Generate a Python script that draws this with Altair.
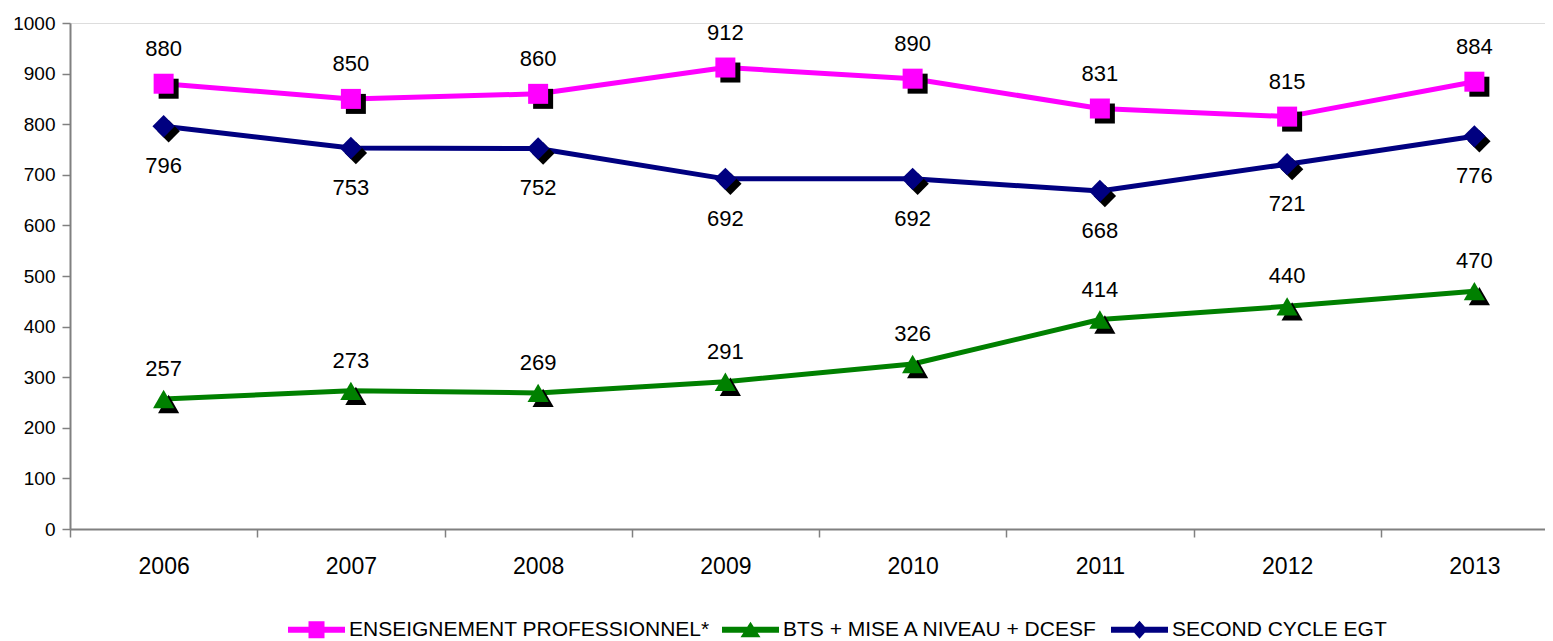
import altair as alt
import pandas as pd

years = [2006, 2007, 2008, 2009, 2010, 2011, 2012, 2013]
series_names = ["ENSEIGNEMENT PROFESSIONNEL*", "BTS + MISE A NIVEAU + DCESF", "SECOND CYCLE EGT"]
pro = [880, 850, 860, 912, 890, 831, 815, 884]
bts = [257, 273, 269, 291, 326, 414, 440, 470]
egt = [796, 753, 752, 692, 692, 668, 721, 776]
colors = ["#FF00FF", "#008000", "#000080"]
marker_shapes = ["square", "triangle-up", "diamond"]
marker_sizes = [400, 500, 484]
label_dy = [-35, -30, 40]
y_ticks = list(range(0, 1001, 100))

rows = []
for name, vals in zip(series_names, [pro, bts, egt]):
    for yr, v in zip(years, vals):
        rows.append({"year": yr, "serie": name, "value": v})
df = pd.DataFrame(rows)

FONT = "Liberation Sans"
GRAY = "#808080"

x_enc = alt.X(
    "year:O",
    scale=alt.Scale(type="band", paddingInner=0, paddingOuter=0, range=[0, 1498]),
    axis=alt.Axis(
        tickBand="extent",
        labelAngle=0,
        tickSize=8,
        tickWidth=1.5,
        tickColor=GRAY,
        domainColor=GRAY,
        domainWidth=2,
        labelPadding=18,
        labelFontSize=23,
        labelFont=FONT,
        labelColor="black",
        labelOverlap=False,
        grid=False,
        title=None,
    ),
)
y_enc = alt.Y(
    "value:Q",
    scale=alt.Scale(domain=[0, 1000], nice=False, zero=True),
    axis=alt.Axis(
        values=y_ticks,
        format="d",
        tickSize=8,
        tickWidth=1.5,
        tickColor=GRAY,
        domainColor=GRAY,
        domainWidth=2,
        labelPadding=7,
        labelFontSize=19,
        labelFont=FONT,
        labelColor="black",
        grid=False,
        title=None,
    ),
)

color_nolegend = alt.Color("serie:N", scale=alt.Scale(domain=series_names, range=colors), legend=None)
shape_nolegend = alt.Shape("serie:N", scale=alt.Scale(domain=series_names, range=marker_shapes), legend=None)
size_nolegend = alt.Size("serie:N", scale=alt.Scale(domain=series_names, range=marker_sizes), legend=None)

base = alt.Chart(df)

lines = base.mark_line(strokeWidth=5, strokeJoin="round", strokeCap="round").encode(
    x=x_enc, y=y_enc, color=color_nolegend, detail="serie:N"
)
shadows = base.mark_point(filled=True, opacity=1, color="black", strokeWidth=0, xOffset=5, yOffset=5).encode(
    x=x_enc, y=y_enc, shape=shape_nolegend, size=size_nolegend, detail="serie:N"
)
markers = base.mark_point(filled=True, opacity=1, strokeWidth=0).encode(
    x=x_enc, y=y_enc, color=color_nolegend, shape=shape_nolegend, size=size_nolegend
)

texts = []
for name, dy in zip(series_names, label_dy):
    texts.append(
        base.transform_filter(alt.datum.serie == name)
        .mark_text(font=FONT, fontSize=22, color="black", dy=dy, baseline="middle", align="center")
        .encode(x=x_enc, y=y_enc, text="value:Q")
    )

# Legend symbols: line segment + marker, as custom paths
leg_paths = [
    "M-2.85,-0.3L2.85,-0.3L2.85,0.3L-2.85,0.3Z M-0.8,-0.85L0.8,-0.85L0.8,0.85L-0.8,0.85Z",
    "M-2.85,-0.3L2.85,-0.3L2.85,0.3L-2.85,0.3Z M0,-0.8L1.0,0.75L-1.0,0.75Z",
    "M-2.85,-0.3L2.85,-0.3L2.85,0.3L-2.85,0.3Z M0,-0.9L0.8,0L0,0.9L-0.8,0Z",
]
legend_def = alt.Legend(
    title=None,
    orient="none",
    direction="horizontal",
    legendX=236,
    legendY=596,
    symbolSize=400,
    symbolStrokeWidth=0,
    symbolOpacity=1,
    labelFont=FONT,
    labelFontSize=21,
    labelColor="black",
    labelOffset=22,
    columnPadding=12,
    padding=0,
    labelLimit=1000,
)
legend_layer = base.transform_filter("false").mark_point(filled=True, opacity=1).encode(
    x=x_enc,
    y=y_enc,
    color=alt.Color("serie:N", scale=alt.Scale(domain=series_names, range=colors), legend=legend_def),
    shape=alt.Shape("serie:N", scale=alt.Scale(domain=series_names, range=leg_paths), legend=legend_def),
)

chart = (
    alt.layer(lines, shadows, markers, *texts, legend_layer)
    .resolve_scale(color="independent", shape="independent")
    .properties(
        width=1475,
        height=506,
        autosize=alt.AutoSizeParams(type="none"),
        padding={"left": 62, "top": 15, "right": 0, "bottom": 111},
    )
    .configure_view(stroke=None)
    .configure(font=FONT)
)

chart.save("out.html", embed_options={"renderer": "svg", "actions": False})
